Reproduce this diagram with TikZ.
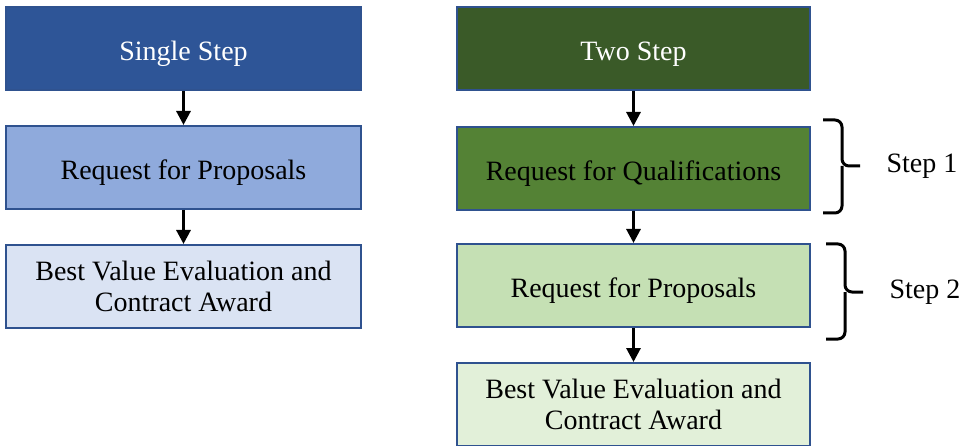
\documentclass[tikz,border=0pt]{standalone}
\usepackage{fontspec}
\setmainfont{Liberation Serif}
\usetikzlibrary{arrows.meta}
\definecolor{edgeblue}{HTML}{2F528F}
\definecolor{blueA}{HTML}{2E5597}
\definecolor{blueB}{HTML}{8FAADC}
\definecolor{blueC}{HTML}{DAE3F3}
\definecolor{greenA}{HTML}{3A5A28}
\definecolor{greenB}{HTML}{548235}
\definecolor{greenC}{HTML}{C5E0B4}
\definecolor{greenD}{HTML}{E2F0D9}
\tikzset{
  stage/.style={draw=edgeblue, line width=2pt, rectangle, align=center,
    minimum height=83pt, inner sep=0pt, font=\fontsize{28}{31}\selectfont},
  oneline/.style={text height=24pt, text depth=0pt},
  leftbox/.style={stage, minimum width=355pt},
  rightbox/.style={stage, minimum width=353pt},
  flow/.style={line width=3pt, -{Triangle[width=14pt,length=14pt]}},
  brace/.style={line width=3pt, rounded corners=7pt},
  steplabel/.style={font=\fontsize{28}{31}\selectfont, inner sep=0pt}
}
\begin{document}
\begin{tikzpicture}[x=1pt, y=-1pt]
\useasboundingbox (0,0) rectangle (966,446);

% single-step procurement
\node[leftbox, oneline, fill=blueA, text=white] (s1) at (183.5,49) {Single Step};
\node[leftbox, oneline, fill=blueB] (s2) at (183.5,167.5) {Request for Proposals};
\node[leftbox, fill=blueC] (s3) at (183.5,286.5) {Best Value Evaluation and\\Contract Award};
\draw[flow] (s1.south) -- (s2.north);
\draw[flow] (s2.south) -- (s3.north);

% two-step procurement
\node[rightbox, oneline, fill=greenA, text=white] (t1) at (633.5,49) {Two Step};
\node[rightbox, oneline, fill=greenB] (t2) at (633.5,168.5) {Request for Qualifications};
\node[rightbox, oneline, fill=greenC] (t3) at (633.5,285.5) {Request for Proposals};
\node[rightbox, fill=greenD] (t4) at (633.5,404.5) {Best Value Evaluation and\\Contract Award};
\draw[flow] (t1.south) -- (t2.north);
\draw[flow] (t2.south) -- (t3.north);
\draw[flow] (t3.south) -- (t4.north);

% braces marking the two steps
\coordinate (b1tip) at (860,166);
\coordinate (b2tip) at (863,292);
\draw[brace] (823,120) -- (842,120) -- (842,166) -- (b1tip);
\draw[brace] (823,213) -- (842,213) -- (842,166);
\draw[brace] (826,244) -- (845,244) -- (845,292) -- (b2tip);
\draw[brace] (826,339) -- (845,339) -- (845,292);
\node[steplabel] (st1) at (922,166) {Step 1};
\node[steplabel] (st2) at (925,292) {Step 2};
\end{tikzpicture}
\end{document}
